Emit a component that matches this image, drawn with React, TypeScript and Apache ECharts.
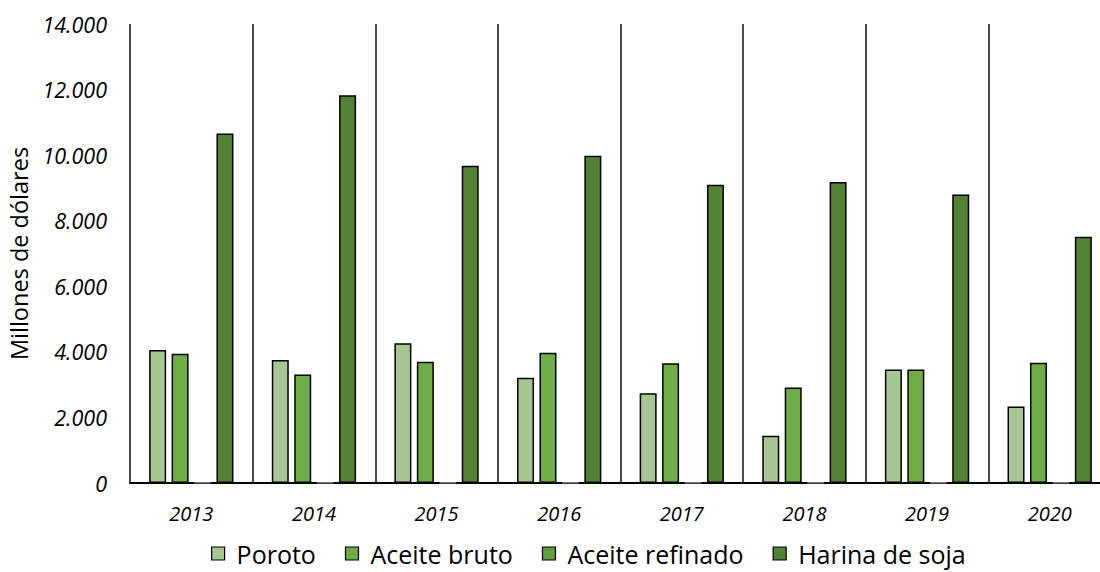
import React, { useEffect, useRef } from "react";
import * as echarts from "echarts";

// Exportaciones del complejo sojero, millones de dólares
const years = ["2013", "2014", "2015", "2016", "2017", "2018", "2019", "2020"];
const poroto = [4060, 3750, 4260, 3210, 2740, 1440, 3460, 2330];
const aceiteBruto = [3940, 3310, 3700, 3970, 3650, 2910, 3460, 3670];
const aceiteRefinado = [10, 10, 10, 10, 10, 10, 10, 10];
const harinaSoja = [10660, 11830, 9680, 9980, 9100, 9180, 8800, 7510];

const seriesNames = ["Poroto", "Aceite bruto", "Aceite refinado", "Harina de soja"];
const seriesColors = ["#A6C791", "#70AD47", "#619D3E", "#548235"];
const yTicks = { min: 0, max: 14000, interval: 2000 };

const FONT = "'Open Sans', sans-serif";

const fmt = (v: number) =>
  String(Math.round(v)).replace(/\B(?=(\d{3})+(?!\d))/g, ".");

export default function App() {
  const ref = useRef<HTMLDivElement>(null);

  useEffect(() => {
    if (!ref.current) return;
    const chart = echarts.init(ref.current, null, { renderer: "svg" });
    const dataSets = [poroto, aceiteBruto, aceiteRefinado, harinaSoja];

    chart.setOption({
      animation: false,
      backgroundColor: "#ffffff",
      textStyle: { fontFamily: FONT },
      grid: {
        left: 130,
        right: -11,
        top: 24,
        bottom: 89,
        containLabel: false,
        outerBoundsMode: "none",
      },
      legend: {
        top: 541,
        left: 211,
        padding: 0,
        itemWidth: 13,
        itemHeight: 13,
        itemGap: 29,
        icon: "rect",
        textStyle: {
          fontSize: 25,
          color: "#000",
          fontFamily: FONT,
          padding: [0, 0, 0, 7],
        },
        data: seriesNames.map((n, i) => ({
          name: n,
          itemStyle: { color: seriesColors[i], borderColor: "#000", borderWidth: 1.2 },
        })),
      },
      xAxis: {
        type: "category",
        data: years,
        boundaryGap: true,
        axisLine: { show: true, lineStyle: { color: "#000", width: 2 } },
        axisTick: { show: false },
        splitLine: { show: true, interval: 0, lineStyle: { color: "#111", width: 1.5 } },
        axisLabel: {
          fontSize: 20,
          fontStyle: "italic",
          color: "#000",
          margin: 20,
          fontFamily: FONT,
        },
      },
      yAxis: {
        type: "value",
        min: yTicks.min,
        max: yTicks.max,
        interval: yTicks.interval,
        name: "Millones de dólares",
        nameLocation: "middle",
        nameGap: 96,
        nameTextStyle: { fontSize: 23.5, color: "#000", fontFamily: FONT },
        axisLine: { show: false },
        axisTick: { show: false },
        splitLine: { show: false },
        axisLabel: {
          fontSize: 21.5,
          fontStyle: "italic",
          color: "#000",
          margin: 23,
          fontFamily: FONT,
          formatter: (v: number) => fmt(v),
        },
      },
      series: seriesNames.map((n, i) => ({
        name: n,
        type: "bar",
        data: dataSets[i],
        barWidth: 17,
        barGap: "32%",
        itemStyle: {
          color: seriesColors[i],
          borderColor: i === 2 ? "#777" : "#000",
          borderWidth: 1.5,
        },
      })),
    });

    return () => chart.dispose();
  }, []);

  return (
    <div
      ref={ref}
      style={{ position: "fixed", left: 0, top: 0, width: 1100, height: 572 }}
    />
  );
}
